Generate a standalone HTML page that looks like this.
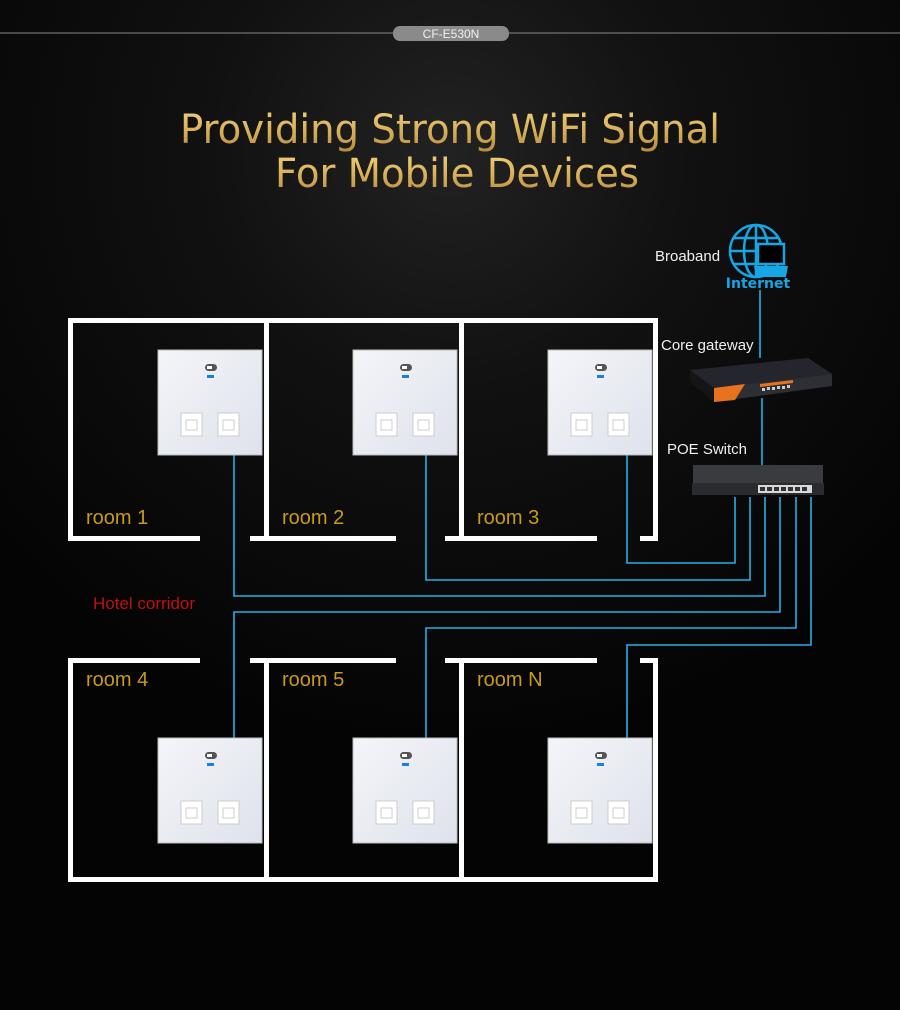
<!DOCTYPE html>
<html><head><meta charset="utf-8"><style>
html,body{margin:0;padding:0;background:#000;}
svg{display:block}
</style></head><body>
<svg width="900" height="1010" viewBox="0 0 900 1010" xmlns="http://www.w3.org/2000/svg">
<defs>
<radialGradient id="bg" cx="450" cy="150" r="600" gradientUnits="userSpaceOnUse">
<stop offset="0" stop-color="#222"/><stop offset="0.4" stop-color="#111"/><stop offset="1" stop-color="#040404"/>
</radialGradient>
<linearGradient id="gold" x1="0" y1="0" x2="0" y2="1">
<stop offset="0" stop-color="#f3d27a"/><stop offset="0.5" stop-color="#d9b15a"/><stop offset="1" stop-color="#b68a3c"/>
</linearGradient>
<linearGradient id="panel" x1="0" y1="0" x2="1" y2="1">
<stop offset="0" stop-color="#f4f5f9"/><stop offset="1" stop-color="#dfe2ec"/>
</linearGradient>
<g id="pn">
<rect x="0" y="0" width="104" height="105" fill="url(#panel)" stroke="#bbb" stroke-width="1"/>
<rect x="47" y="14" width="12" height="7" rx="3.5" fill="#555"/>
<rect x="49" y="16" width="5" height="3" fill="#fff"/>
<rect x="49" y="25" width="7" height="3" fill="#1a7fe0"/>
<rect x="23" y="63" width="21" height="23" fill="#fff" stroke="#ccc"/>
<rect x="28" y="70" width="11" height="10" fill="none" stroke="#ccc"/>
<rect x="60" y="63" width="21" height="23" fill="#fff" stroke="#ccc"/>
<rect x="65" y="70" width="11" height="10" fill="none" stroke="#ccc"/>
</g>
</defs>
<rect width="900" height="1010" fill="url(#bg)"/>
<line x1="0" y1="33" x2="900" y2="33" stroke="#888" stroke-width="1"/>
<rect x="393" y="26" width="116" height="15" rx="7" fill="#8a8a8a"/>
<text x="451" y="38" text-anchor="middle" font-family="Liberation Sans, sans-serif" font-size="12" fill="#f0f0f0">CF-E530N</text>
<text x="450" y="143" text-anchor="middle" textLength="540" lengthAdjust="spacingAndGlyphs" font-family="DejaVu Sans, sans-serif" font-size="40" fill="url(#gold)">Providing Strong WiFi Signal</text>
<text x="457" y="187" text-anchor="middle" textLength="364" lengthAdjust="spacingAndGlyphs" font-family="DejaVu Sans, sans-serif" font-size="40" fill="url(#gold)">For Mobile Devices</text>

<g fill="none" stroke="#22b0ec" stroke-width="1.6">
<line x1="760" y1="290" x2="760" y2="358"/>
<line x1="762" y1="398" x2="762" y2="465"/>
<polyline points="735,497 735,563 627,563 627,455"/>
<polyline points="750,497 750,580 426,580 426,455"/>
<polyline points="765,497 765,596 234,596 234,455"/>
<polyline points="780,497 780,612 234,612 234,740"/>
<polyline points="796,497 796,628 426,628 426,740"/>
<polyline points="811,497 811,645 627,645 627,740"/>
</g>

<g fill="#fff">
<rect x="68" y="318" width="590" height="5"/>
<rect x="68" y="318" width="5" height="223"/>
<rect x="264" y="318" width="5" height="223"/>
<rect x="459" y="318" width="5" height="223"/>
<rect x="653" y="318" width="5" height="223"/>
<rect x="68" y="536" width="132" height="5"/>
<rect x="250" y="536" width="146" height="5"/>
<rect x="445" y="536" width="152" height="5"/>
<rect x="640" y="536" width="18" height="5"/>
<rect x="68" y="658" width="132" height="5"/>
<rect x="250" y="658" width="146" height="5"/>
<rect x="445" y="658" width="152" height="5"/>
<rect x="640" y="658" width="18" height="5"/>
<rect x="68" y="658" width="5" height="224"/>
<rect x="264" y="658" width="5" height="224"/>
<rect x="459" y="658" width="5" height="224"/>
<rect x="653" y="658" width="5" height="224"/>
<rect x="68" y="877" width="590" height="5"/>
</g>

<use href="#pn" x="158" y="350"/>
<use href="#pn" x="353" y="350"/>
<use href="#pn" x="548" y="350"/>
<use href="#pn" x="158" y="738"/>
<use href="#pn" x="353" y="738"/>
<use href="#pn" x="548" y="738"/>

<g font-family="Liberation Sans, sans-serif" font-size="20" fill="#c89a1a">
<text x="86" y="524">room 1</text>
<text x="282" y="524">room 2</text>
<text x="477" y="524">room 3</text>
<text x="86" y="686">room 4</text>
<text x="282" y="686">room 5</text>
<text x="477" y="686">room N</text>
</g>
<text x="93" y="609" font-family="Liberation Sans, sans-serif" font-size="17" fill="#c01010">Hotel corridor</text>

<g font-family="Liberation Sans, sans-serif" font-size="15" fill="#f0f0f0">
<text x="655" y="261">Broaband</text>
<text x="661" y="350">Core gateway</text>
<text x="667" y="454">POE Switch</text>
</g>

<g stroke="#16a5e5" fill="none" stroke-width="2.5">
<circle cx="756" cy="251" r="26"/>
<ellipse cx="756" cy="251" rx="12" ry="26"/>
<line x1="756" y1="225" x2="756" y2="277"/>
<line x1="730" y1="251" x2="782" y2="251"/>
<line x1="734" y1="238" x2="778" y2="238"/>
<line x1="734" y1="264" x2="778" y2="264"/>
</g>
<rect x="758" y="244" width="26" height="20" fill="#000" stroke="#16a5e5" stroke-width="2.5"/>
<polygon points="754,266 788,266 786,277 756,277" fill="#16a5e5"/>
<text x="758" y="288" text-anchor="middle" font-family="DejaVu Sans, sans-serif" font-weight="bold" font-size="14" fill="#16a5e5">Internet</text>

<!-- core gateway -->
<polygon points="690,370 808,358 832,374 714,388" fill="#25262d"/>
<polygon points="690,370 714,388 714,402 690,382" fill="#151515"/>
<polygon points="714,388 832,374 832,386 714,402" fill="#2e2f35"/>
<polygon points="714,388 745,384 735,400 714,402" fill="#e8721e"/>
<polygon points="760,384 793,380 793,383 760,387" fill="#e8721e"/>
<g fill="#ccc"><rect x="762" y="388" width="3" height="3"/><rect x="767" y="387" width="3" height="3"/><rect x="772" y="387" width="3" height="3"/><rect x="777" y="386" width="3" height="3"/><rect x="782" y="386" width="3" height="3"/><rect x="787" y="385" width="3" height="3"/></g>
<!-- poe switch -->
<rect x="693" y="465" width="130" height="18" fill="#3a3b3e"/>
<rect x="692" y="483" width="132" height="12" fill="#2a2b2e"/>
<rect x="758" y="485" width="54" height="8" fill="#d8d8d8"/>
<g fill="#333">
<rect x="760" y="487" width="5" height="4"/><rect x="767" y="487" width="5" height="4"/><rect x="774" y="487" width="5" height="4"/><rect x="781" y="487" width="5" height="4"/><rect x="788" y="487" width="5" height="4"/><rect x="795" y="487" width="5" height="4"/><rect x="802" y="487" width="5" height="4"/>
</g>
</svg>
</body></html>
